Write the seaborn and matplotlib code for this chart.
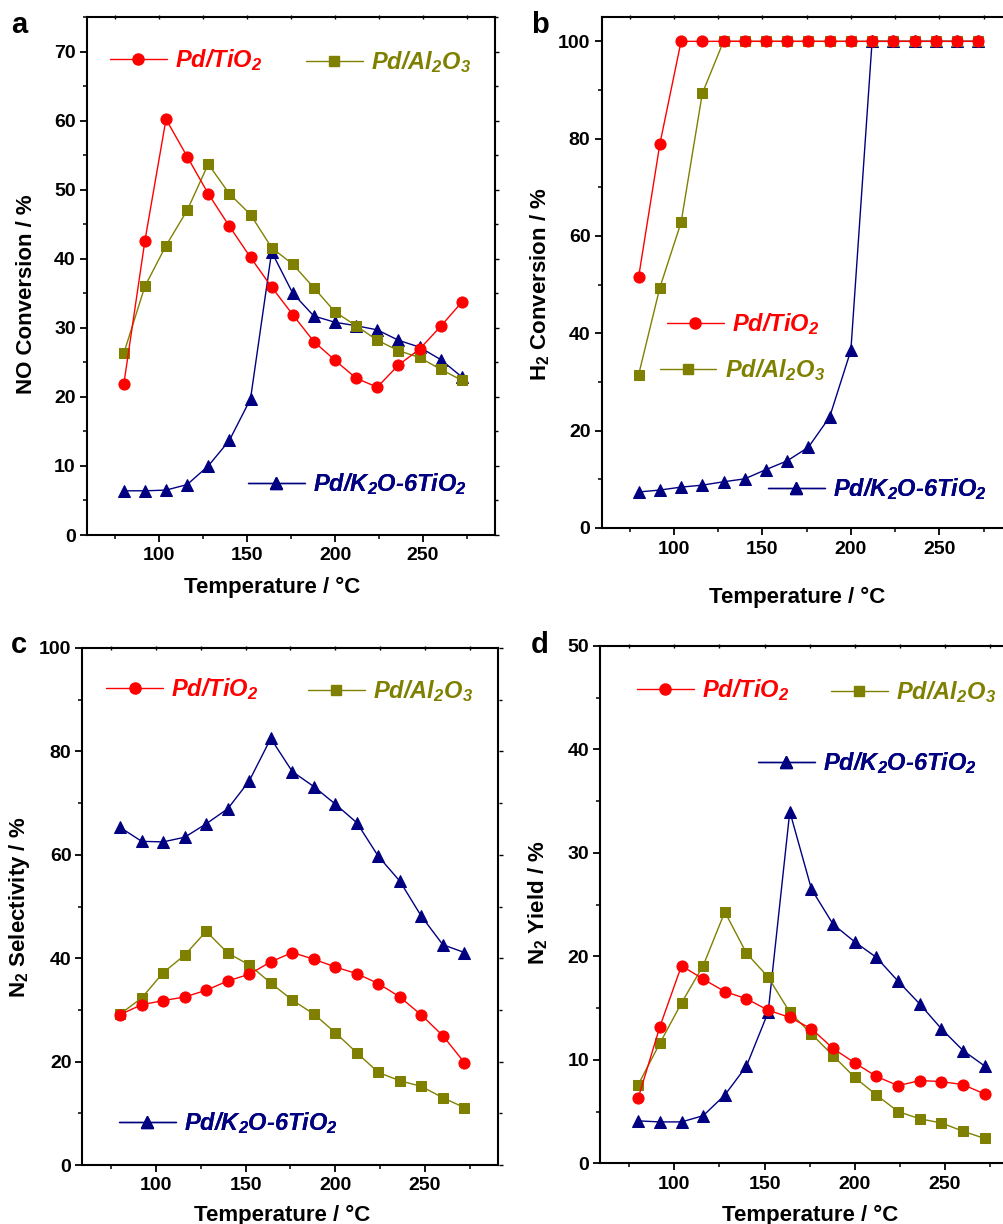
import numpy as np
import pandas as pd
import matplotlib
matplotlib.use("Agg")
import matplotlib.pyplot as plt
import seaborn as sns
from matplotlib.ticker import MultipleLocator, NullFormatter
from matplotlib.lines import Line2D

# ---------------- data ----------------
temps = [80, 92, 104, 116, 128, 140, 152, 164, 176, 188, 200, 212, 224, 236, 248, 260, 272]

no_tio2 = [21.8, 42.6, 60.2, 54.8, 49.4, 44.7, 40.2, 35.9, 31.9, 28.0, 25.3, 22.7, 21.4, 24.6, 26.9, 30.2, 33.7]
no_al2o3 = [26.3, 36.0, 41.9, 47.0, 53.7, 49.4, 46.4, 41.6, 39.2, 35.8, 32.3, 30.3, 28.2, 26.7, 25.7, 24.0, 22.4]
no_k2o = [6.4, 6.4, 6.5, 7.3, 10.0, 13.7, 19.7, 41.0, 35.0, 31.7, 30.8, 30.3, 29.7, 28.2, 27.2, 25.4, 22.9]

h2_tio2 = [51.6, 78.9, 100, 100, 100, 100, 100, 100, 100, 100, 100, 100, 100, 100, 100, 100, 100]
h2_al2o3 = [31.5, 49.4, 62.8, 89.3, 100, 100, 100, 100, 100, 100, 100, 100, 100, 100, 100, 100, 100]
h2_k2o = [7.4, 7.8, 8.4, 8.8, 9.5, 10.1, 12.0, 13.8, 16.6, 22.8, 36.5, 100, 100, 100, 100, 100, 100]

sel_tio2 = [29.1, 31.0, 31.8, 32.5, 33.8, 35.6, 36.9, 39.3, 41.1, 39.8, 38.3, 37.0, 35.1, 32.5, 29.0, 25.0, 19.8]
sel_al2o3 = [29.2, 32.3, 37.2, 40.6, 45.2, 41.0, 38.7, 35.2, 31.9, 29.2, 25.6, 21.7, 17.9, 16.3, 15.2, 13.0, 11.1]
sel_k2o = [65.3, 62.6, 62.5, 63.4, 66.0, 68.9, 74.3, 82.5, 76.1, 73.2, 69.8, 66.2, 59.7, 54.9, 48.1, 42.6, 41.1]

yld_tio2 = [6.3, 13.2, 19.1, 17.8, 16.6, 15.9, 14.8, 14.1, 13.0, 11.1, 9.7, 8.4, 7.5, 8.0, 7.9, 7.6, 6.7]
yld_al2o3 = [7.6, 11.6, 15.5, 19.1, 24.3, 20.3, 18.0, 14.6, 12.5, 10.4, 8.3, 6.6, 5.0, 4.3, 3.9, 3.1, 2.4]
yld_k2o = [4.1, 4.0, 4.0, 4.6, 6.6, 9.4, 14.6, 34.0, 26.5, 23.1, 21.4, 19.9, 17.6, 15.4, 13.0, 10.9, 9.4]

names = ["Pd/TiO$_\\mathbfit{2}$", "Pd/Al$_\\mathbfit{2}$O$_\\mathbfit{3}$", "Pd/K$_\\mathbfit{2}$O-6TiO$_\\mathbfit{2}$"]
colors = ["#FF0000", "#808000", "#000080"]
markers = ["o", "s", "^"]
msizes = [8, 7, 8.5]

# ---------------- style ----------------
sns.set_style("ticks")
plt.rcParams["font.family"] = ["Liberation Sans", "DejaVu Sans"]
plt.rcParams["font.weight"] = "bold"
plt.rcParams["axes.labelweight"] = "bold"
plt.rcParams["axes.edgecolor"] = "black"
plt.rcParams["axes.labelcolor"] = "black"
plt.rcParams["text.color"] = "black"
plt.rcParams["axes.linewidth"] = 1.5
plt.rcParams["xtick.color"] = "black"
plt.rcParams["ytick.color"] = "black"
plt.rcParams["xtick.labelcolor"] = "black"
plt.rcParams["ytick.labelcolor"] = "black"
plt.rcParams["mathtext.fontset"] = "custom"
plt.rcParams["mathtext.rm"] = "Liberation Sans:bold"
plt.rcParams["mathtext.bf"] = "Liberation Sans:bold"
plt.rcParams["mathtext.it"] = "Liberation Sans:italic:bold"
plt.rcParams["mathtext.bfit"] = "Liberation Sans:italic:bold"

W, H = 1004, 1224
fig = plt.figure(figsize=(W / 100, H / 100), dpi=100)


def make_ax(l, t, r, b):
    return fig.add_axes([l / W, 1 - b / H, (r - l) / W, (b - t) / H])


panels = [
    dict(pos=(86.8, 17, 495.2, 535), data=[no_tio2, no_al2o3, no_k2o], ylim=(0, 75), major=10, minor=5,
         ylabel="NO Conversion / %", letter="a", letter_xy=(11, 33),
         ylab=(-0.1225, 0.465), xlab=(0.453, -0.081),
         leg=[(0.057, 0.917), (0.537, 0.913), (0.395, 0.098)]),
    dict(pos=(601.5, 17, 1011.8, 528), data=[h2_tio2, h2_al2o3, h2_k2o], ylim=(0, 105), major=20, minor=10,
         ylabel="H$_2$ Conversion / %", letter="b", letter_xy=(531, 33),
         ylab=(-0.121, 0.477), xlab=(0.476, -0.115),
         leg=[(0.16, 0.399), (0.142, 0.309), (0.406, 0.076)]),
    dict(pos=(82.5, 648, 498.5, 1165), data=[sel_tio2, sel_al2o3, sel_k2o], ylim=(0, 100), major=20, minor=10,
         ylabel="N$_2$ Selectivity / %", letter="c", letter_xy=(11, 653),
         ylab=(-0.121, 0.499), xlab=(0.48, -0.077),
         leg=[(0.057, 0.921), (0.542, 0.917), (0.088, 0.081)]),
    dict(pos=(600.3, 646, 1019, 1163.3), data=[yld_tio2, yld_al2o3, yld_k2o], ylim=(0, 50), major=10, minor=5,
         ylabel="N$_2$ Yield / %", letter="d", letter_xy=(531, 653),
         ylab=(-0.12, 0.503), xlab=(0.50, -0.081),
         leg=[(0.088, 0.915), (0.551, 0.911), (0.377, 0.774)]),
]

for p in panels:
    ax = make_ax(*p["pos"])
    # draw K2O first, then Al2O3, then TiO2 on top
    for i in [2, 1, 0]:
        sns.lineplot(x=temps, y=p["data"][i], ax=ax, color=colors[i], marker=markers[i],
                     markersize=msizes[i], markeredgecolor=colors[i], linewidth=1.0,
                     sort=False, errorbar=None, legend=False)
    ax.set_xlim(59, 291)
    ax.set_ylim(*p["ylim"])
    ax.xaxis.set_major_locator(MultipleLocator(50))
    ax.xaxis.set_minor_locator(MultipleLocator(25))
    ax.yaxis.set_major_locator(MultipleLocator(p["major"]))
    ax.yaxis.set_minor_locator(MultipleLocator(p["minor"]))
    ax.tick_params(which="major", direction="out", length=5, width=1.3, labelsize=14, pad=3,
                   top=False, right=False)
    ax.tick_params(which="minor", direction="out", length=3, width=1.1, top=False, right=False)
    ax.tick_params(axis="x", which="major", pad=4)
    for lab in ax.get_xticklabels() + ax.get_yticklabels():
        lab.set_fontweight("bold")

    # small ticks on top and right spines (no labels)
    sx = ax.secondary_xaxis("top")
    sx.xaxis.set_major_locator(MultipleLocator(50))
    sx.xaxis.set_minor_locator(MultipleLocator(25))
    sx.xaxis.set_major_formatter(NullFormatter())
    sx.tick_params(which="both", direction="inout", length=3, width=1.0)
    sx.spines["top"].set_visible(False)
    sy = ax.secondary_yaxis("right")
    sy.yaxis.set_major_locator(MultipleLocator(p["major"]))
    sy.yaxis.set_minor_locator(MultipleLocator(p["minor"]))
    sy.yaxis.set_major_formatter(NullFormatter())
    sy.tick_params(which="major", direction="out", length=3, width=1.0)
    sy.tick_params(which="minor", direction="out", length=2, width=1.0)
    sy.spines["right"].set_visible(False)

    ax.set_xlabel("Temperature / °C", fontsize=16, fontweight="bold")
    ax.set_ylabel(p["ylabel"], fontsize=16, fontweight="bold")
    ax.xaxis.set_label_coords(*p["xlab"])
    ax.yaxis.set_label_coords(*p["ylab"])

    for i in range(3):
        h = Line2D([], [], color=colors[i], marker=markers[i], markersize=msizes[i],
                   markeredgecolor=colors[i], linewidth=1.0)
        lg = ax.legend(handles=[h], labels=[names[i]], loc="center left",
                       bbox_to_anchor=p["leg"][i], frameon=False, borderpad=0, borderaxespad=0,
                       handlelength=2.4, handletextpad=0.35, numpoints=1,
                       prop=dict(family="Liberation Sans", weight="bold", style="italic", size=17),
                       labelcolor=colors[i])
        ax.add_artist(lg)

    fig.text(p["letter_xy"][0] / W, 1 - p["letter_xy"][1] / H, p["letter"], fontsize=21,
             fontweight="bold", ha="left", va="baseline")

fig.savefig("out.png", dpi=100)
